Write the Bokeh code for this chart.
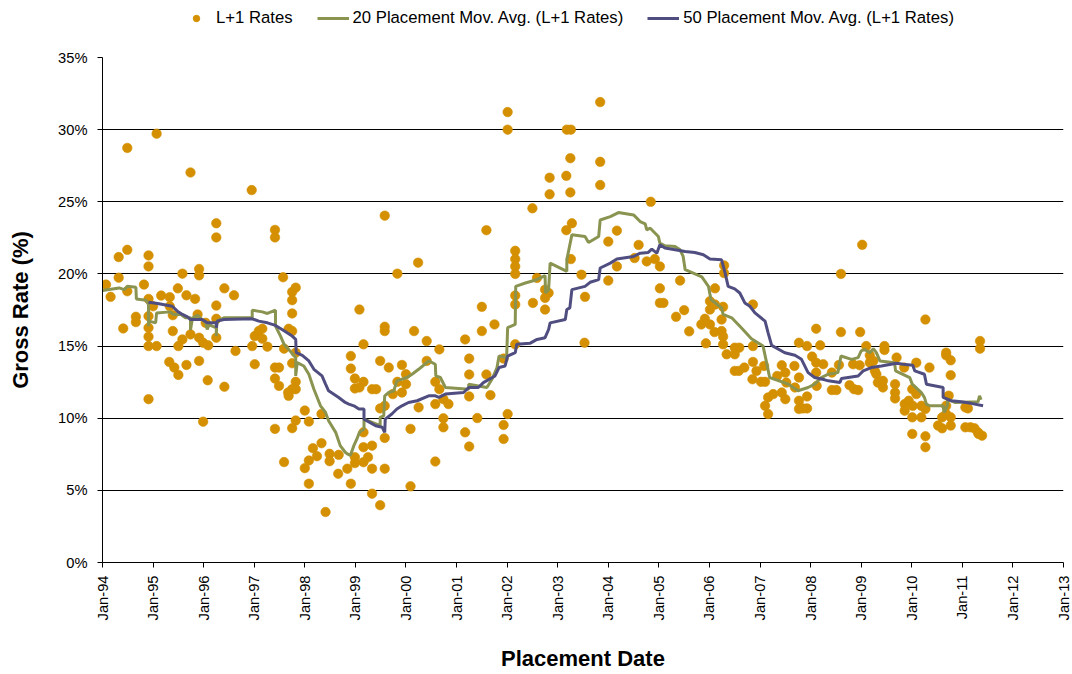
from bokeh.plotting import figure
from bokeh.models import FixedTicker, Legend, LegendItem
from bokeh.layouts import column
from bokeh.embed import file_html
from bokeh.resources import INLINE
from math import pi

# ---- data (placement date as decimal year, rate in %) ----
dates = [
    1995.07, 1994.49, 1995.74, 1996.95, 1996.25, 1996.25, 1997.41, 1997.41, 1994.49, 1994.32,
    1994.91, 1994.91, 1994.32, 1994.07, 1994.82, 1995.58, 1995.91, 1995.91, 1997.57, 1997.82,
    1997.75, 1997.75, 1997.75, 1994.16, 1994.49, 1995.16, 1995.33, 1995.49, 1995.66, 1995.83,
    1996.41, 1996.60, 1996.25, 1994.91, 1994.66, 1994.66, 1994.41, 1994.91, 1994.91, 1994.91,
    1994.91, 1995.07, 1995.00, 1995.33, 1995.39, 1995.39, 1995.58, 1995.50, 1995.74, 1995.88,
    1995.91, 1995.99, 1996.09, 1996.04, 1996.25, 1996.25, 1995.32, 1995.42, 1995.50, 1995.66,
    1995.91, 1996.08, 1996.41, 1996.63, 1994.91, 1995.99, 1996.96, 1997.01, 1997.09, 1997.16,
    1997.16, 1997.26, 1997.01, 1997.41, 1997.49, 1997.41, 1997.49, 1997.59, 1997.68, 1997.75,
    1997.82, 1997.75, 1997.82, 1997.75, 1997.82, 1997.68, 1997.67, 1997.41, 1997.59, 1998.00,
    1997.82, 1997.75, 1998.08, 1998.33, 1998.33, 1998.16, 1998.08, 1998.00, 1998.08, 1998.24,
    1998.49, 1998.49, 1998.67, 1998.66, 1998.41, 1998.84,
    2002.01, 2002.01, 2003.18, 2003.26, 2003.25, 2002.84, 2003.17, 2002.84, 2003.25, 2002.50,
    1999.58, 2001.59, 2003.28, 2003.17, 2000.24, 1999.83, 2002.16, 2002.16, 2002.16, 2002.16,
    2003.26, 2003.47, 2002.59, 2002.75, 2002.82, 2002.75, 2002.75, 2002.51, 2002.16, 2002.16,
    2003.54, 2003.53, 1999.08, 1999.58, 1999.58, 1999.16, 2000.16, 2000.41, 2000.66, 2001.50,
    2001.50, 2001.75, 2001.17, 2001.25, 2001.25, 2001.59, 2001.67, 2001.25, 2001.41, 2001.93,
    2002.01, 2001.93, 2001.93, 2001.17, 2001.25, 2002.16, 1998.91, 1998.91, 1998.99, 1999.16,
    1998.99, 1999.08, 1999.33, 1999.41, 1999.49, 1999.66, 1999.92, 2000.00, 1999.83, 2000.00,
    1999.92, 1999.74, 1999.58, 1999.49, 2000.25, 2000.41, 2000.58, 2000.66, 2000.58, 2000.74,
    2000.84, 2000.74, 2000.74, 2000.09, 2000.58, 2000.09, 1999.58, 1999.58, 1999.33, 1999.16,
    1999.16, 1999.25, 1999.16, 1998.99, 1998.99, 1998.91, 1999.33, 1999.49, 1999.33,
    2003.84, 2003.84, 2003.84, 2004.84, 2004.17, 2004.00, 2004.60, 2004.52, 2004.76, 2004.92,
    2005.02, 2004.17, 2004.00, 2005.02, 2005.02, 2005.09, 2005.42, 2005.50, 2005.34, 2005.60,
    2006.29, 2006.29, 2006.11, 2006.01, 2006.01, 2006.11, 2006.27, 2006.24, 2005.91, 2005.84,
    2006.01, 2006.10, 2005.93, 2006.24, 2006.27, 2006.27, 2006.34, 2006.50, 2006.59, 2006.50,
    2006.50, 2006.58, 2006.69, 2006.86, 2006.86, 2006.86, 2006.93, 2006.85, 2007.02, 2007.10,
    2007.08, 2007.16, 2007.10, 2007.16, 2007.26, 2007.43, 2007.34, 2007.50, 2007.52, 2007.43,
    2007.50, 2007.68, 2007.77, 2007.93, 2008.11, 2008.19, 2008.03, 2008.11, 2007.77, 2007.69,
    2007.77, 2007.77, 2007.93, 2007.93, 2007.85, 2008.11, 2008.25,
    2009.02, 2008.60, 2010.27, 2008.60, 2008.98, 2009.10, 2009.46, 2009.46, 2011.35, 2011.35,
    2010.68, 2010.68, 2010.77, 2010.77, 2010.35, 2010.09, 2009.85, 2009.70, 2008.42, 2008.56,
    2008.84, 2008.97, 2009.17, 2009.17, 2009.24, 2009.27, 2009.30, 2009.33, 2009.43, 2008.12,
    2008.42, 2008.51, 2008.77, 2008.86, 2008.94, 2009.43, 2009.67, 2009.67, 2009.67, 2010.01,
    2010.09, 2009.86, 2009.86, 2009.94, 2010.02, 2010.19, 2010.01, 2010.19, 2010.27, 2010.01,
    2010.27, 2010.27, 2010.52, 2010.60, 2010.60, 2010.68, 2010.77, 2010.77, 2010.68, 2010.73,
    2011.06, 2011.11, 2011.06, 2011.16, 2011.24, 2011.31, 2011.39, 2011.32,
]
rates = [
    29.72, 28.73, 27.03, 25.81, 23.51, 22.53, 23.05, 22.53, 21.67, 21.17,
    21.28, 20.52, 19.74, 19.26, 19.26, 20.02, 20.34, 19.90, 19.77, 19.05,
    18.75, 18.18, 17.26, 18.41, 18.80, 18.50, 18.39, 19.00, 18.52, 18.27,
    19.00, 18.52, 17.81, 18.27, 17.03, 16.66, 16.22, 17.07, 16.27, 15.65,
    15.00, 15.00, 17.76, 17.76, 17.14, 16.04, 15.46, 15.00, 15.81, 17.19,
    15.58, 15.23, 15.05, 16.61, 16.89, 15.58, 13.90, 13.51, 13.00, 13.69,
    13.97, 12.63, 12.18, 14.66, 11.32, 9.76, 15.00, 15.69, 16.04, 16.20,
    15.51, 14.96, 13.74, 13.51, 13.51, 12.75, 12.24, 14.82, 16.20, 16.04,
    14.54, 13.81, 12.52, 12.01, 12.01, 11.55, 11.78, 9.26, 6.96, 10.53,
    9.84, 9.31, 9.77, 10.30, 8.27, 7.92, 7.07, 6.54, 5.46, 7.37,
    7.53, 7.02, 7.46, 6.15, 3.50, 6.50,
    31.22, 30.00, 30.00, 30.00, 28.02, 26.67, 26.80, 25.52, 25.65, 24.55,
    24.04, 23.03, 23.51, 23.03, 20.78, 20.02, 21.60, 21.03, 20.52, 20.00,
    21.03, 19.95, 19.72, 18.91, 18.68, 18.34, 17.53, 17.99, 17.88, 18.50,
    18.41, 15.23, 17.53, 16.34, 16.04, 15.12, 16.04, 15.35, 14.77, 17.72,
    16.04, 16.50, 15.46, 14.13, 13.03, 13.03, 11.60, 11.51, 10.01, 14.13,
    10.29, 9.53, 8.56, 9.02, 8.04, 15.12, 14.31, 13.44, 12.75, 12.52,
    12.06, 12.13, 12.01, 12.01, 13.97, 13.51, 13.69, 13.05, 12.52, 12.36,
    11.78, 11.67, 10.86, 10.68, 10.75, 13.97, 12.52, 12.01, 10.98, 11.32,
    10.98, 9.99, 9.37, 9.26, 7.00, 5.28, 8.63, 6.50, 8.10, 7.99,
    9.02, 7.30, 6.95, 7.30, 6.89, 5.46, 4.77, 3.97, 6.50,
    31.91, 27.77, 26.16, 25.00, 23.00, 22.24, 22.01, 21.10, 20.87, 21.03,
    20.52, 20.52, 19.54, 19.00, 17.99, 17.99, 19.54, 17.49, 17.03, 16.02,
    20.59, 20.06, 19.00, 18.11, 17.53, 17.88, 17.72, 16.84, 16.89, 16.50,
    16.50, 15.97, 15.19, 16.04, 15.65, 15.12, 14.43, 14.89, 14.89, 14.43,
    13.28, 13.28, 13.51, 17.88, 15.00, 13.90, 13.28, 12.70, 12.52, 12.52,
    13.62, 11.44, 10.86, 10.29, 11.67, 13.67, 12.93, 13.16, 12.47, 11.78,
    11.32, 13.62, 15.23, 15.00, 16.20, 15.05, 14.27, 13.85, 12.82, 12.13,
    11.21, 10.64, 11.51, 10.68, 10.68, 13.16, 13.74,
    22.02, 20.00, 16.84, 15.97, 15.97, 15.00, 15.00, 14.73, 15.35, 14.82,
    14.54, 14.36, 14.01, 12.98, 13.51, 13.85, 13.51, 14.20, 13.16, 13.69,
    13.74, 13.67, 14.36, 13.85, 13.97, 13.28, 13.05, 12.47, 12.13, 12.24,
    11.95, 11.95, 12.29, 12.01, 11.95, 12.59, 12.36, 11.78, 11.37, 12.01,
    11.67, 10.98, 10.52, 11.21, 10.86, 10.86, 10.06, 10.06, 10.64, 8.91,
    8.75, 7.99, 9.49, 9.30, 10.06, 10.29, 10.06, 9.49, 10.86, 11.56,
    10.75, 10.68, 9.37, 9.37, 9.30, 9.02, 8.79, 8.91,
]

ma20_dates = [
    1994.00, 1994.33, 1994.43, 1994.49, 1994.66, 1994.67, 1994.86, 1994.91, 1994.91, 1994.92,
    1995.05, 1995.07, 1995.33, 1995.41, 1995.55, 1995.64, 1995.74, 1995.74, 1995.78, 1995.88,
    1995.97, 1996.04, 1996.07, 1996.11, 1996.17, 1996.25, 1996.25, 1996.26, 1996.40, 1996.96,
    1996.96, 1997.16, 1997.26, 1997.42, 1997.42, 1997.52, 1997.59, 1997.68, 1997.82, 1997.82,
    1997.85, 1997.98, 1998.08, 1998.18, 1998.31, 1998.41, 1998.47, 1998.61, 1998.70, 1998.80,
    1998.84, 1998.90, 1998.97, 1999.03, 1999.08, 1999.17, 1999.17, 1999.33, 1999.49, 1999.49,
    1999.56, 1999.58, 1999.66, 1999.76, 1999.82, 2000.02, 2000.12, 2000.25, 2000.33, 2000.45,
    2000.58, 2000.59, 2000.68, 2000.78, 2001.24, 2001.24, 2001.60, 2001.70, 2001.80, 2001.84,
    2001.99, 2002.01, 2002.16, 2002.17, 2002.36, 2002.55, 2002.75, 2002.76, 2002.82, 2002.85,
    2003.18, 2003.18, 2003.28, 2003.54, 2003.61, 2003.81, 2003.84, 2004.04, 2004.20, 2004.50,
    2004.63, 2004.73, 2004.76, 2004.83, 2004.99, 2005.02, 2005.12, 2005.32, 2005.42, 2005.48,
    2005.52, 2005.85, 2005.98, 2006.03, 2006.24, 2006.27, 2006.44, 2006.63, 2006.83, 2007.06,
    2007.13, 2007.19, 2007.56, 2007.75, 2007.95, 2008.08, 2008.21, 2008.35, 2008.54, 2008.60,
    2008.81, 2008.94, 2009.00, 2009.07, 2009.17, 2009.24, 2009.30, 2009.37, 2009.66, 2009.68,
    2009.96, 2010.01, 2010.19, 2010.25, 2010.29, 2010.35, 2010.62, 2010.64, 2010.70, 2010.71,
    2010.85, 2011.31, 2011.34, 2011.37,
]
ma20_vals = [
    18.85, 19.03, 18.91, 19.14, 19.08, 18.27, 18.18, 17.88, 16.38, 16.73,
    16.61, 17.30, 17.37, 17.19, 17.19, 16.96, 16.96, 16.11, 16.96, 17.12,
    16.84, 16.61, 16.15, 16.50, 16.38, 16.27, 15.69, 16.73, 16.96, 16.96,
    17.49, 17.37, 17.26, 17.49, 16.38, 15.69, 15.12, 14.77, 14.20, 12.93,
    13.85, 13.62, 13.05, 12.01, 10.86, 10.40, 9.83, 9.02, 8.10, 7.64,
    7.53, 7.42, 8.10, 8.56, 9.02, 9.25, 9.94, 9.71, 9.48, 10.06,
    10.17, 11.55, 11.78, 11.90, 12.59, 12.82, 13.05, 13.39, 13.62, 13.97,
    13.74, 12.93, 12.82, 12.13, 12.01, 12.36, 12.13, 12.70, 13.51, 14.31,
    14.20, 16.27, 16.50, 19.14, 19.37, 19.56, 19.88, 18.68, 18.91, 20.75,
    20.18, 20.98, 22.71, 22.59, 22.18, 22.59, 23.74, 23.97, 24.25, 24.09,
    23.63, 23.47, 23.05, 23.17, 22.59, 22.13, 21.95, 21.90, 21.67, 21.21,
    20.29, 19.79, 19.14, 18.22, 17.65, 17.19, 16.96, 16.27, 15.51, 15.00,
    13.85, 12.82, 12.36, 11.90, 12.13, 12.36, 12.82, 13.05, 13.16, 14.31,
    14.08, 14.20, 14.66, 14.77, 14.54, 14.82, 14.54, 13.97, 13.85, 13.28,
    12.82, 12.36, 11.78, 11.44, 10.98, 10.86, 10.86, 10.40, 10.86, 11.32,
    11.09, 11.14, 11.55, 11.28,
]

ma50_dates = [
    1994.91, 1995.09, 1995.38, 1995.48, 1995.58, 1995.68, 1995.74, 1995.97, 1996.07, 1996.25,
    1996.25, 1996.27, 1996.40, 1996.96, 1997.09, 1997.26, 1997.42, 1997.55, 1997.75, 1997.82,
    1997.83, 1997.95, 1998.08, 1998.18, 1998.34, 1998.41, 1998.47, 1998.67, 1998.80, 1998.87,
    1998.97, 1999.07, 1999.17, 1999.17, 1999.40, 1999.53, 1999.58, 1999.59, 1999.72, 1999.82,
    1999.92, 2000.05, 2000.22, 2000.45, 2000.58, 2000.65, 2000.78, 2001.14, 2001.24, 2001.43,
    2001.53, 2001.76, 2001.84, 2001.96, 2002.01, 2002.16, 2002.19, 2002.45, 2002.59, 2002.75,
    2002.82, 2002.85, 2003.15, 2003.18, 2003.24, 2003.28, 2003.54, 2003.64, 2003.81, 2003.84,
    2004.04, 2004.17, 2004.50, 2004.63, 2004.79, 2004.86, 2004.96, 2005.02, 2005.12, 2005.52,
    2005.71, 2005.88, 2006.01, 2006.24, 2006.31, 2006.37, 2006.50, 2006.60, 2006.70, 2006.80,
    2006.90, 2007.10, 2007.16, 2007.23, 2007.49, 2007.69, 2007.82, 2007.95, 2008.08, 2008.28,
    2008.35, 2008.58, 2008.61, 2008.94, 2009.04, 2009.20, 2009.40, 2009.70, 2009.83, 2010.02,
    2010.06, 2010.25, 2010.29, 2010.52, 2010.62, 2010.62, 2010.78, 2010.98, 2011.17, 2011.41,
]
ma50_vals = [
    18.04, 17.95, 17.76, 17.42, 17.19, 17.03, 16.84, 16.84, 16.61, 16.61,
    16.27, 16.73, 16.84, 16.89, 16.73, 16.61, 16.43, 16.15, 15.69, 15.46,
    14.54, 14.36, 13.97, 13.39, 12.93, 12.36, 11.90, 11.44, 11.09, 10.98,
    10.86, 10.64, 10.64, 9.94, 9.48, 9.37, 9.02, 9.94, 10.29, 10.64,
    10.86, 11.09, 11.21, 11.55, 11.55, 11.44, 11.67, 11.78, 12.13, 12.13,
    12.47, 12.93, 13.51, 13.62, 14.31, 14.54, 15.12, 15.19, 15.46, 15.58,
    16.15, 16.61, 16.84, 17.53, 17.65, 18.91, 19.14, 19.42, 19.61, 20.41,
    20.75, 21.03, 21.21, 21.44, 21.49, 21.72, 21.44, 22.02, 21.79, 21.56,
    21.49, 21.33, 21.03, 20.98, 20.06, 19.14, 18.96, 18.68, 17.99, 17.76,
    17.30, 16.73, 15.92, 15.05, 14.54, 14.36, 14.08, 13.16, 12.82, 12.66,
    12.59, 12.47, 12.75, 12.93, 13.28, 13.51, 13.62, 13.81, 13.74, 13.67,
    13.28, 13.05, 12.36, 12.20, 12.13, 11.44, 11.21, 11.14, 11.03, 10.86,
]

year_ticks = list(range(1994, 2014))
year_labels = ["Jan-94", "Jan-95", "Jan-96", "Jan-97", "Jan-98", "Jan-99", "Jan-00",
               "Jan-01", "Jan-02", "Jan-03", "Jan-04", "Jan-05", "Jan-06", "Jan-07",
               "Jan-08", "Jan-09", "Jan-10", "Jan-11", "Jan-12", "Jan-13"]
rate_ticks = [0, 5, 10, 15, 20, 25, 30, 35]
rate_labels = ["0%", "5%", "10%", "15%", "20%", "25%", "30%", "35%"]

series_names = ["L+1 Rates",
                "20 Placement Mov. Avg. (L+1 Rates)",
                "50 Placement Mov. Avg. (L+1 Rates)"]

# ---- styling ----
FONT = "Liberation Sans"
DOT = "#D49000"
GREEN = "#8A9450"
NAVY = "#504E80"

# ---- main chart ----
p = figure(width=1072, height=634, x_range=(1994, 2013), y_range=(0, 35),
           output_backend="svg", toolbar_location=None,
           min_border_left=102, min_border_right=9, min_border_top=17,
           min_border_bottom=108)
p.outline_line_color = None
p.background_fill_color = "white"
p.border_fill_color = "white"

p.scatter(dates, rates, size=9.5, fill_color=DOT, line_color=DOT, line_alpha=0.6)
p.line(ma20_dates, ma20_vals, line_color=GREEN, line_width=3)
p.line(ma50_dates, ma50_vals, line_color=NAVY, line_width=3)

p.xaxis.ticker = FixedTicker(ticks=year_ticks)
p.xaxis.major_label_overrides = {t: l for t, l in zip(year_ticks, year_labels)}
p.xaxis.major_label_orientation = pi / 2
p.yaxis.ticker = FixedTicker(ticks=rate_ticks)
p.yaxis.major_label_overrides = {t: l for t, l in zip(rate_ticks, rate_labels)}

for ax in (p.xaxis[0], p.yaxis[0]):
    ax.axis_line_color = "black"
    ax.axis_line_width = 1
    ax.major_tick_line_color = "black"
    ax.major_tick_out = 5
    ax.major_tick_in = 0
    ax.minor_tick_line_color = None
    ax.major_label_text_font = FONT
    ax.major_label_text_font_size = "14.7px"
    ax.major_label_text_color = "black"
    ax.axis_label_text_font = FONT
    ax.axis_label_text_font_size = "22px"
    ax.axis_label_text_font_style = "bold"
    ax.axis_label_text_color = "black"

p.xaxis.axis_label = "Placement Date"
p.yaxis.axis_label = "Gross Rate (%)"
p.xaxis.major_label_standoff = 8
p.yaxis.major_label_standoff = 10
p.xaxis.axis_label_standoff = 23
p.yaxis.axis_label_standoff = 22

p.xgrid.grid_line_color = None
p.ygrid.ticker = FixedTicker(ticks=rate_ticks)
p.ygrid.grid_line_color = "black"
p.ygrid.grid_line_width = 1

# ---- legend strip above the chart (key glyphs sit outside the strip's range) ----
lg = figure(width=1072, height=40, x_range=(0, 1), y_range=(0, 1),
            output_backend="svg", toolbar_location=None,
            x_axis_type=None, y_axis_type=None, min_border=0)
lg.outline_line_color = None
lg.xgrid.visible = False
lg.ygrid.visible = False
k0 = lg.scatter(x=[-5], y=[-5], size=9.5, fill_color=DOT, line_color=DOT)
k1 = lg.line(x=[-5, -4], y=[-5, -5], line_color=GREEN, line_width=3)
k2 = lg.line(x=[-5, -4], y=[-5, -5], line_color=NAVY, line_width=3)
legend = Legend(items=[LegendItem(label=series_names[0], renderers=[k0]),
                       LegendItem(label=series_names[1], renderers=[k1]),
                       LegendItem(label=series_names[2], renderers=[k2])],
                orientation="horizontal", location=(78, 12),
                label_text_font=FONT, label_text_font_size="16.7px",
                label_text_color="black", glyph_width=32, glyph_height=16,
                label_standoff=4, spacing=24, padding=0, margin=0,
                border_line_color=None, background_fill_alpha=0)
lg.add_layout(legend, "center")

page = column(lg, p, spacing=0)
open("out.html", "w").write(file_html(page, INLINE))
